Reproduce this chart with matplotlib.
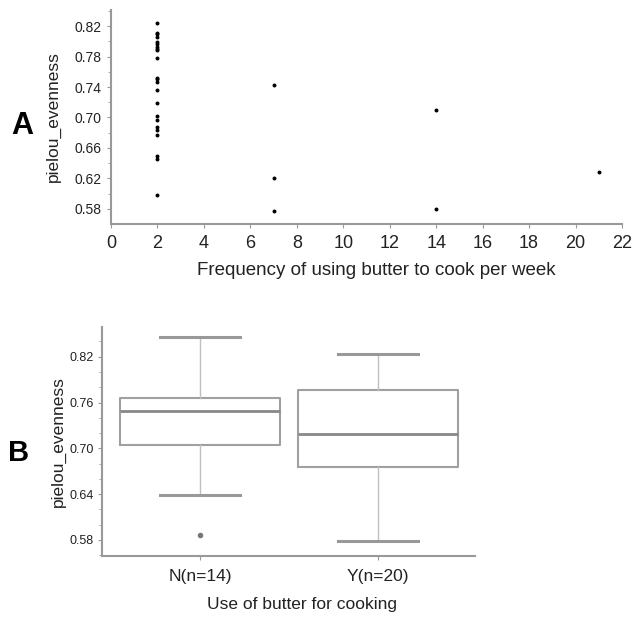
import matplotlib
matplotlib.use("Agg")
import matplotlib.pyplot as plt
from matplotlib.ticker import MultipleLocator

plt.rcParams['font.family'] = ['Liberation Sans', 'DejaVu Sans']

# данные панели A: частота использования масла и индекс Пиелу
freq = [2] * 23 + [7, 7, 7, 14, 14, 21]
evenness = [0.824, 0.811, 0.809, 0.806, 0.799, 0.796, 0.793, 0.790, 0.788, 0.778,
            0.752, 0.750, 0.747, 0.736, 0.719, 0.702, 0.697, 0.688, 0.683, 0.677,
            0.649, 0.646, 0.598,
            0.743, 0.621, 0.577, 0.710, 0.580, 0.629]

# данные панели B: статистики боксплотов
groups = ["N(n=14)", "Y(n=20)"]
q1 = [0.705, 0.676]
med = [0.749, 0.719]
q3 = [0.766, 0.776]
wlo = [0.639, 0.578]
whi = [0.846, 0.823]
outliers = [[0.587], []]

grey = "#999999"

fig = plt.figure(figsize=(6.32, 6.17), dpi=100)

# ---- панель A ----
axA = fig.add_axes([111 / 632, 1 - 224 / 617, 511 / 632, 214 / 617])
axA.scatter(freq, evenness, s=8, color="black", linewidths=0)
axA.set_xlim(0, 22)
axA.set_ylim(0.5603, 0.841)
axA.yaxis.set_minor_locator(MultipleLocator(0.02))
axA.set_yticks([0.58, 0.62, 0.66, 0.70, 0.74, 0.78, 0.82])
axA.set_yticklabels(["0.58", "0.62", "0.66", "0.70", "0.74", "0.78", "0.82"])
axA.set_xticks(range(0, 23, 2))
for s in ["top", "right"]:
    axA.spines[s].set_visible(False)
for s in ["left", "bottom"]:
    axA.spines[s].set_color(grey)
    axA.spines[s].set_linewidth(1.5)
axA.tick_params(axis="x", labelsize=13, color=grey, length=3, pad=5, colors="#222222")
axA.tick_params(axis="y", labelsize=10, color=grey, length=3, pad=4, colors="#222222")
axA.tick_params(axis="y", which="minor", color=grey, length=2)
axA.set_xlabel("Frequency of using butter to cook per week", fontsize=13.5, color="#222222")
axA.xaxis.set_label_coords(0.52, -0.178)
axA.set_ylabel("pielou_evenness", fontsize=12.5, color="#222222")
axA.yaxis.set_label_coords(-0.098, 0.5)

fig.text(22 / 632, 1 - 126 / 617, "A", fontsize=22, fontweight="bold", ha="center", va="center")

# ---- панель B ----
axB = fig.add_axes([102 / 632, 1 - 556 / 617, 373 / 632, 229.3 / 617])
stats = []
for i in range(len(groups)):
    stats.append({"q1": q1[i], "med": med[i], "q3": q3[i],
                  "whislo": wlo[i], "whishi": whi[i], "fliers": outliers[i]})
axB.bxp(stats, positions=[0, 1], widths=0.9, showfliers=True,
        boxprops=dict(color="#a0a0a0", linewidth=1.5),
        medianprops=dict(color="#888888", linewidth=2),
        whiskerprops=dict(color="#c0c0c0", linewidth=1),
        capprops=dict(color="#999999", linewidth=2.2),
        capwidths=0.45,
        flierprops=dict(marker="o", markersize=3, markerfacecolor="#777777",
                        markeredgecolor="#777777"))
axB.set_xlim(-0.551, 1.548)
axB.set_ylim(0.559, 0.8593)
axB.set_xticks([0, 1])
axB.set_xticklabels(groups, fontsize=12.5, color="#222222")
axB.set_yticks([0.58, 0.64, 0.70, 0.76, 0.82])
axB.set_yticklabels(["0.58", "0.64", "0.70", "0.76", "0.82"], fontsize=9, color="#222222")
axB.yaxis.set_minor_locator(MultipleLocator(0.02))
for s in ["top", "right"]:
    axB.spines[s].set_visible(False)
for s in ["left", "bottom"]:
    axB.spines[s].set_color(grey)
    axB.spines[s].set_linewidth(1.5)
axB.tick_params(axis="x", color=grey, length=3, pad=6)
axB.tick_params(axis="y", color=grey, length=3, pad=3)
axB.tick_params(axis="y", which="minor", color=grey, length=2)
axB.set_xlabel("Use of butter for cooking", fontsize=12.5, color="#222222")
axB.xaxis.set_label_coords(0.535, -0.178)
axB.set_ylabel("pielou_evenness", fontsize=12.5, color="#222222")
axB.yaxis.set_label_coords(-0.0965, 0.5)

fig.text(19 / 632, 1 - 453 / 617, "B", fontsize=21, fontweight="bold", ha="center", va="center")

fig.savefig("out.png", dpi=100)
